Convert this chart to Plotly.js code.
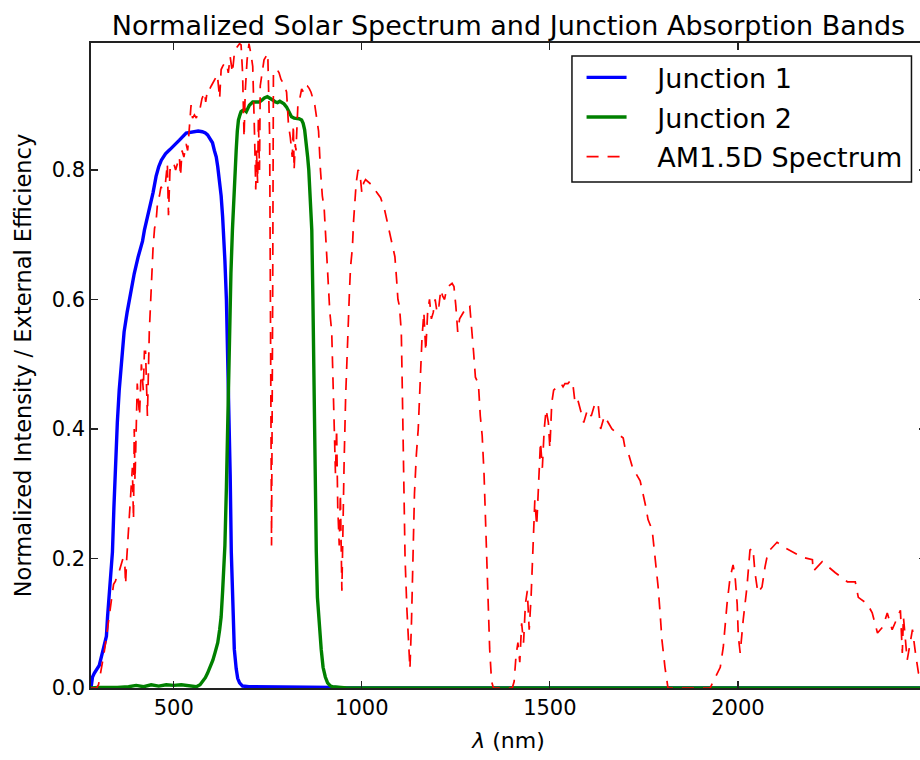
<!DOCTYPE html>
<html>
<head>
<meta charset="utf-8">
<script src="https://cdn.plot.ly/plotly-3.0.1.min.js"></script>
<style>
  html, body { margin: 0; padding: 0; background: #fff; overflow: hidden; }
  #chart { width: 940px; height: 760px; }
</style>
</head>
<body>
<div id="chart"></div>
<script>
// Junction 1 external efficiency (top cell)
const wlJ1 = [280, 284, 289, 295, 302, 310, 316, 321, 324, 329, 334, 337, 341, 345, 350, 355, 361, 368, 376, 385,
  395, 405, 417, 422, 435, 445, 453, 460, 467, 478, 489, 500, 515, 533, 545, 555, 565, 576, 584, 590,
  597, 603, 608, 613, 617, 620, 623, 626, 630, 633, 636, 640, 644, 647, 650, 653, 657, 661, 666, 670,
  675, 683, 700, 800, 900, 930, 950, 2500];
const eqeJ1 = [0, 0.017, 0.023, 0.028, 0.035, 0.054, 0.07, 0.08, 0.11, 0.15, 0.19, 0.21, 0.28, 0.35, 0.41, 0.46, 0.51, 0.55, 0.58, 0.61,
  0.64, 0.665, 0.69, 0.707, 0.738, 0.765, 0.79, 0.805, 0.815, 0.825, 0.831, 0.838, 0.846, 0.857, 0.858, 0.859, 0.86, 0.859, 0.857, 0.854,
  0.848, 0.842, 0.83, 0.82, 0.805, 0.79, 0.775, 0.76, 0.727, 0.70, 0.66, 0.60, 0.50, 0.42, 0.33, 0.21, 0.11, 0.06, 0.03, 0.015,
  0.008, 0.003, 0.002, 0.002, 0.002, 0.001, 0, 0];

// Junction 2 external efficiency (bottom cell)
const wlJ2 = [280, 300, 350, 380, 400, 420, 440, 460, 480, 500, 520, 540, 560, 570, 577, 584, 590, 597, 604, 610,
  617, 622, 626, 630, 633, 636, 640, 644, 648, 652, 656, 660, 663, 666, 669, 672, 676, 679, 684, 688,
  693, 697, 701, 710, 720, 728, 735, 741, 749, 756, 763, 770, 776, 782, 786, 793, 800, 806, 813, 820,
  826, 833, 840, 844, 848, 852, 856, 859, 861, 864, 867, 870, 873, 876, 879, 882, 885, 888, 892, 897,
  903, 909, 915, 922, 935, 960, 2500];
const eqeJ2 = [0, 0.001, 0.001, 0.002, 0.004, 0.002, 0.005, 0.003, 0.005, 0.004, 0.005, 0.003, 0.002, 0.005, 0.01, 0.016, 0.023, 0.032, 0.043, 0.055,
  0.07, 0.09, 0.11, 0.15, 0.18, 0.22, 0.31, 0.42, 0.55, 0.64, 0.707, 0.77, 0.80, 0.83, 0.86, 0.877, 0.885, 0.89, 0.892, 0.893,
  0.89, 0.895, 0.90, 0.905, 0.905, 0.905, 0.908, 0.911, 0.913, 0.911, 0.908, 0.905, 0.904, 0.906, 0.905, 0.902, 0.897, 0.89, 0.882, 0.88,
  0.88, 0.879, 0.877, 0.872, 0.862, 0.845, 0.82, 0.80, 0.78, 0.745, 0.707, 0.60, 0.45, 0.32, 0.21, 0.14, 0.11, 0.085, 0.06, 0.032,
  0.017, 0.008, 0.004, 0.002, 0.001, 0, 0];

// AM1.5D direct spectrum, normalized to its peak
const wlSpec = [280, 290, 295, 300, 305, 310, 315, 320, 325, 330, 335, 340, 345, 350, 355, 360, 365, 370, 372, 375,
  379, 385, 390, 393, 395, 397, 401, 403, 409, 414, 419, 422, 425, 430, 435, 440, 445, 449, 453, 457,
  462, 466, 470, 478, 483, 486, 490, 495, 500, 505, 510, 515, 518, 522, 527, 533, 537, 541, 546, 550,
  555, 560, 565, 570, 575, 582, 585, 590, 595, 600, 605, 610, 616, 622, 626, 630, 635, 640, 645, 650,
  656, 662, 668, 675, 679, 683, 687, 690, 695, 700, 705, 710, 715, 718, 720, 723, 725, 728, 730, 735,
  740, 745, 750, 755, 758, 760, 763, 765, 770, 775, 780, 785, 790, 795, 800, 805, 810, 815, 818, 820,
  823, 825, 830, 835, 840, 845, 850, 855, 860, 865, 870, 875, 880, 885, 890, 895, 900, 905, 910, 915,
  920, 925, 930, 933, 936, 940, 943, 947, 950, 953, 957, 960, 963, 967, 970, 975, 978, 982, 985, 990,
  995, 1000, 1005, 1010, 1020, 1030, 1040, 1050, 1060, 1065, 1070, 1080, 1088, 1092, 1096, 1100, 1105, 1108, 1112, 1115,
  1120, 1125, 1128, 1132, 1136, 1140, 1145, 1150, 1155, 1160, 1165, 1170, 1175, 1180, 1185, 1190, 1195, 1200, 1205, 1210,
  1215, 1220, 1225, 1230, 1240, 1245, 1250, 1255, 1260, 1265, 1270, 1280, 1287, 1292, 1297, 1302, 1310, 1315, 1320, 1325,
  1330, 1335, 1340, 1345, 1350, 1400, 1405, 1410, 1415, 1420, 1425, 1430, 1435, 1440, 1445, 1450, 1455, 1460, 1465, 1470,
  1475, 1480, 1485, 1490, 1496, 1500, 1505, 1510, 1520, 1530, 1535, 1540, 1548, 1555, 1561, 1566, 1572, 1580, 1590, 1600,
  1610, 1620, 1628, 1635, 1645, 1655, 1665, 1675, 1685, 1695, 1700, 1710, 1720, 1730, 1740, 1755, 1761, 1772, 1780, 1785,
  1788, 1793, 1798, 1806, 1814, 1926, 1945, 1953, 1961, 1971, 1979, 1987, 1992, 1998, 2001, 2006, 2014, 2024, 2032, 2040,
  2045, 2053, 2064, 2072, 2080, 2104, 2121, 2147, 2171, 2198, 2200, 2224, 2259, 2291, 2312, 2320, 2344, 2357, 2371, 2386,
  2397, 2410, 2432, 2437, 2440, 2450, 2464, 2472, 2480, 2500];
const am15d = [0, 0, 0, 0.005, 0.02, 0.035, 0.055, 0.075, 0.095, 0.115, 0.14, 0.16, 0.165, 0.175, 0.18, 0.19, 0.20, 0.19, 0.16, 0.20,
  0.24, 0.30, 0.34, 0.26, 0.40, 0.32, 0.43, 0.47, 0.42, 0.50, 0.46, 0.52, 0.52, 0.42, 0.55, 0.62, 0.68, 0.71, 0.72, 0.75,
  0.76, 0.774, 0.77, 0.78, 0.81, 0.73, 0.80, 0.80, 0.81, 0.80, 0.81, 0.82, 0.79, 0.83, 0.82, 0.84, 0.83, 0.87, 0.90, 0.88,
  0.885, 0.88, 0.89, 0.895, 0.91, 0.92, 0.905, 0.925, 0.924, 0.93, 0.935, 0.94, 0.947, 0.91, 0.955, 0.96, 0.965, 0.965, 0.95, 0.975,
  0.95, 0.985, 0.99, 0.995, 0.993, 0.95, 0.85, 0.92, 0.97, 0.995, 0.98, 0.96, 0.85, 0.77, 0.83, 0.78, 0.88, 0.80, 0.93, 0.95,
  0.97, 0.975, 0.98, 0.85, 0.50, 0.22, 0.60, 0.95, 0.955, 0.955, 0.95, 0.94, 0.935, 0.93, 0.92, 0.87, 0.85, 0.82, 0.87, 0.80,
  0.84, 0.83, 0.90, 0.91, 0.925, 0.92, 0.93, 0.93, 0.926, 0.92, 0.91, 0.90, 0.88, 0.86, 0.80, 0.76, 0.74, 0.68, 0.62, 0.58,
  0.55, 0.44, 0.33, 0.40, 0.28, 0.22, 0.30, 0.15, 0.28, 0.35, 0.45, 0.51, 0.56, 0.61, 0.65, 0.68, 0.72, 0.75, 0.78, 0.80,
  0.795, 0.765, 0.78, 0.785, 0.78, 0.775, 0.765, 0.757, 0.74, 0.727, 0.715, 0.69, 0.666, 0.635, 0.60, 0.59, 0.55, 0.45, 0.32, 0.20,
  0.12, 0.06, 0.03, 0.10, 0.20, 0.30, 0.36, 0.40, 0.47, 0.54, 0.58, 0.52, 0.58, 0.60, 0.57, 0.58, 0.60, 0.58, 0.59, 0.615,
  0.605, 0.60, 0.615, 0.62, 0.625, 0.62, 0.59, 0.55, 0.57, 0.575, 0.58, 0.59, 0.59, 0.56, 0.52, 0.48, 0.47, 0.42, 0.39, 0.33,
  0.24, 0.14, 0.06, 0.01, 0, 0, 0.01, 0.05, 0.07, 0.04, 0.10, 0.07, 0.13, 0.15, 0.09, 0.14, 0.21, 0.29, 0.25, 0.31,
  0.38, 0.34, 0.40, 0.43, 0.41, 0.37, 0.44, 0.46, 0.465, 0.47, 0.465, 0.47, 0.47, 0.475, 0.47, 0.445, 0.45, 0.43, 0.41, 0.43,
  0.42, 0.44, 0.44, 0.40, 0.42, 0.41, 0.40, 0.395, 0.39, 0.386, 0.37, 0.36, 0.34, 0.33, 0.32, 0.28, 0.26, 0.244, 0.198, 0.178,
  0.155, 0.116, 0.074, 0.032, 0, 0, 0.023, 0.032, 0.063, 0.13, 0.17, 0.19, 0.175, 0.13, 0.08, 0.054, 0.105, 0.156, 0.213, 0.216,
  0.18, 0.147, 0.156, 0.187, 0.21, 0.225, 0.218, 0.21, 0.202, 0.198, 0.18, 0.195, 0.178, 0.164, 0.164, 0.14, 0.13, 0.116, 0.085, 0.095,
  0.116, 0.09, 0.12, 0.054, 0.11, 0.043, 0.09, 0.054, 0.023, 0.01];

const seriesNames = ['Junction 1', 'Junction 2', 'AM1.5D Spectrum'];
const xTicks = [500, 1000, 1500, 2000];
const yTicks = [0, 0.2, 0.4, 0.6, 0.8];

const font = 'DejaVu Sans, Liberation Sans, sans-serif';
// gap between a legend swatch and its label
const labelGap = '\u00a0\u00a0\u00a0';

const traces = [
  { x: wlJ1, y: eqeJ1, name: labelGap + seriesNames[0], legendgroup: 'a', mode: 'lines',
    line: { color: '#0000ff', width: 3.4 } },
  { x: wlJ2, y: eqeJ2, name: labelGap + seriesNames[1], legendgroup: 'b', mode: 'lines',
    line: { color: '#008000', width: 3.4 } },
  { x: wlSpec, y: am15d, name: labelGap + seriesNames[2], legendgroup: 'c', mode: 'lines',
    line: { color: '#ff0000', width: 1.7, dash: '12px,9px' } }
];

const axisCommon = {
  showline: true, mirror: 'ticks', linecolor: '#222', linewidth: 1.6,
  ticks: 'inside', ticklen: 7, tickwidth: 1.2, tickcolor: '#222',
  showgrid: false, zeroline: false,
  tickfont: { family: font, size: 21, color: '#000' }
};

const layout = {
  width: 940, height: 760,
  margin: { l: 91, r: 14, t: 43, b: 72 },
  paper_bgcolor: '#fff', plot_bgcolor: '#fff',
  title: {
    text: 'Normalized Solar Spectrum and Junction Absorption Bands',
    font: { family: font, size: 27, color: '#000' },
    x: 0.5, xref: 'paper', y: 0.967, yref: 'container', yanchor: 'middle'
  },
  xaxis: Object.assign({}, axisCommon, {
    range: [280, 2500], tickvals: xTicks,
    title: { text: '<i>λ</i> (nm)', font: { family: font, size: 22, color: '#000' }, standoff: 14 }
  }),
  yaxis: Object.assign({}, axisCommon, {
    range: [0, 0.996], tickvals: yTicks, tickformat: '.1f',
    title: { text: 'Normalized Intensity / External Efficiency', font: { family: font, size: 22.5, color: '#000' }, standoff: 14 }
  }),
  // legend frame
  shapes: [{
    type: 'rect', xref: 'paper', yref: 'paper', layer: 'above',
    x0: 0.576, x1: 0.9826, y0: 0.7845, y1: 0.980,
    line: { color: '#111', width: 1.5 }, fillcolor: '#fff'
  }],
  showlegend: true,
  legend: {
    x: 0.5875, y: 0.984, xanchor: 'left', yanchor: 'top',
    bgcolor: 'rgba(0,0,0,0)', borderwidth: 0,
    font: { family: font, size: 27, color: '#000' },
    tracegroupgap: 1.5, itemwidth: 40
  }
};

Plotly.newPlot('chart', traces, layout, { displayModeBar: false, staticPlot: true });
</script>
</body>
</html>
